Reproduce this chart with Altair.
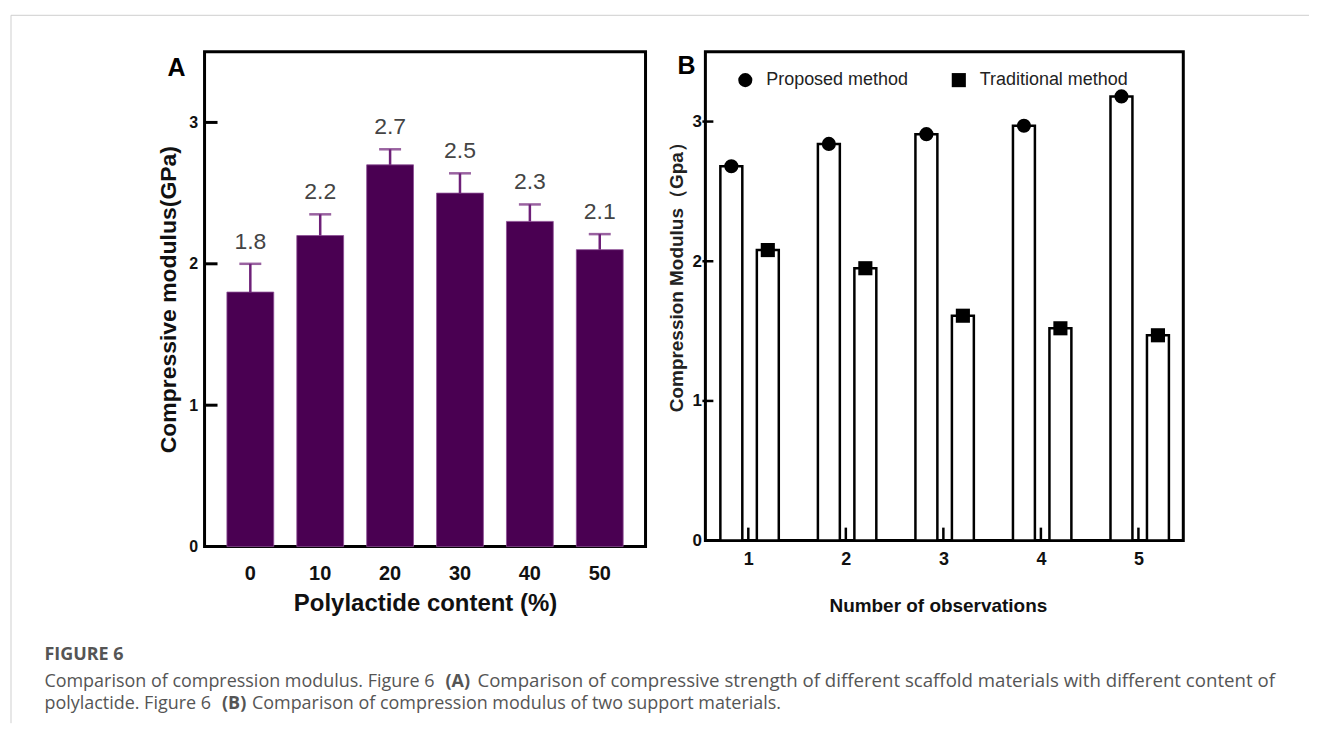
import altair as alt
import pandas as pd

# ---------------- Panel A data ----------------
content = ["0", "10", "20", "30", "40", "50"]
modulus = [1.8, 2.2, 2.7, 2.5, 2.3, 2.1]
err_up = [0.20, 0.15, 0.11, 0.14, 0.12, 0.11]
a_labels = ["1.8", "2.2", "2.7", "2.5", "2.3", "2.1"]
a_yticks = [0, 1, 2, 3]

# ---------------- Panel B data ----------------
observations = [1, 2, 3, 4, 5]
proposed = [2.68, 2.84, 2.91, 2.97, 3.18]
traditional = [2.08, 1.95, 1.61, 1.52, 1.47]
methods = ["Proposed method", "Traditional method"]
b_yticks = [0, 1, 2, 3]

caption_title = "FIGURE 6"
cap1a = "Comparison of compression modulus. Figure 6"
cap1b = "(A)"
cap1c = "Comparison of compressive strength of different scaffold materials with different content of"
cap2a = "polylactide. Figure 6"
cap2b = "(B)"
cap2c = "Comparison of compression modulus of two support materials."

ARIAL = "Liberation Sans"
CAPFONT = "Open Sans"

dfA = pd.DataFrame({"content": content, "modulus": modulus, "err": err_up, "label": a_labels})
dfA_ticks = pd.DataFrame({"t": a_yticks[1:]})
one = pd.DataFrame({"d": [0]})

WA, HA = 442, 496
WB, HB = 479, 490
PURPLE = "#4a0052"
EPURPLE = "#6e2078"

xA_scale = alt.Scale(paddingInner=0.33, paddingOuter=0.32)
xA_axis = alt.Axis(title="Polylactide content (%)", labelAngle=0, ticks=False, tickSize=0,
                   domain=False, grid=False, labelFont=ARIAL, labelFontSize=20,
                   labelFontWeight="bold", labelColor="#111", labelPadding=17,
                   titleFont=ARIAL, titleFontSize=24, titleFontWeight="bold",
                   titleColor="#111", titlePadding=8)
yA_scale = alt.Scale(domain=[0, 3.5], nice=False, zero=True)
yA_axis = alt.Axis(title="Compressive modulus(GPa)", values=a_yticks, ticks=False, tickSize=0,
                   domain=False, grid=False, labelFont=ARIAL, labelFontSize=16,
                   labelFontWeight="bold", labelColor="#111", labelPadding=7,
                   titleFont=ARIAL, titleFontSize=23, titleFontWeight="bold",
                   titleColor="#111", titlePadding=8)

def xa():
    return alt.X("content:N", sort=content, scale=xA_scale, axis=xA_axis)

def ya(field):
    return alt.Y(field, scale=yA_scale, axis=yA_axis)

baseA = alt.Chart(dfA).transform_calculate(upper="datum.modulus + datum.err")

barsA = baseA.mark_bar(color=PURPLE, stroke="#8c4c94", strokeWidth=0.8).encode(
    x=xa(), y=ya("modulus:Q"))
errA = baseA.mark_rule(color=EPURPLE, strokeWidth=2.5).encode(
    x=xa(), y=ya("modulus:Q"), y2="upper:Q")
capA = baseA.mark_tick(color=EPURPLE, thickness=2.5, size=22).encode(
    x=xa(), y=ya("upper:Q"))
lblA = baseA.mark_text(dy=-10, baseline="bottom", fontSize=23, color="#444", font=ARIAL).encode(
    x=xa(), y=ya("upper:Q"), text="label:N")
ticksA = alt.Chart(dfA_ticks).mark_rule(color="black", strokeWidth=3).encode(
    y=ya("t:Q"), x=alt.value(0), x2=alt.value(13))

letterA = alt.Chart(one).mark_text(fontSize=25, fontWeight="bold", font=ARIAL, color="black").encode(
    x=alt.value(-28), y=alt.value(16), text=alt.value("A"))

# page frame (decoration)
frame_top = alt.Chart(one).mark_rule(color="#cfcfcf", strokeWidth=1).encode(
    x=alt.value(-194), x2=alt.value(1107), y=alt.value(-36.5))
frame_left = alt.Chart(one).mark_rule(color="#cfcfcf", strokeWidth=1).encode(
    x=alt.value(-194), y=alt.value(-36.5), y2=alt.value(673))

def cap_text(txt, x, y, bold=False, size=18):
    return alt.Chart(one).mark_text(align="left", baseline="alphabetic", font=CAPFONT,
                                    fontSize=size, fontWeight="bold" if bold else "normal",
                                    color="#555").encode(
        x=alt.value(x), y=alt.value(y), text=alt.value(txt))

captions = [
    cap_text(caption_title, -160.5, 609.5, bold=True, size=18),
    cap_text(cap1a, -160.5, 636.5),
    cap_text(cap1b, 241.5, 636.5, bold=True),
    cap_text(cap1c, 273.5, 636.5, size=18.7),
    cap_text(cap2a, -160.5, 658.5),
    cap_text(cap2b, 17.5, 658.5, bold=True),
    cap_text(cap2c, 47.5, 658.5),
]

panelA = alt.layer(barsA, errA, capA, lblA, ticksA, letterA, frame_top, frame_left,
                   *captions).properties(width=WA, height=HA)

# ---------------- Panel B ----------------
dfB = pd.DataFrame({
    "obs": observations * 2,
    "method": [methods[0]] * len(observations) + [methods[1]] * len(observations),
    "value": proposed + traditional,
})
dfB_xt = pd.DataFrame({"o": observations})
dfB_yt = pd.DataFrame({"t": b_yticks[1:]})

xB_scale = alt.Scale(domain=[0.56, 5.46], nice=False, zero=False)
xB_axis = alt.Axis(title="Number of observations", values=observations, ticks=False, tickSize=0,
                   domain=False, grid=False, labelFont=ARIAL, labelFontSize=18,
                   labelFontWeight="bold", labelColor="#111", labelPadding=10,
                   titleFont=ARIAL, titleFontSize=19, titleFontWeight="bold",
                   titleColor="#111", titlePadding=28, titleX=233)
yB_scale = alt.Scale(domain=[0, 3.5], nice=False, zero=True)
yB_axis = alt.Axis(title="Compression Modulus（Gpa）", values=b_yticks, ticks=False, tickSize=0,
                   domain=False, grid=False, labelFont=ARIAL, labelFontSize=17,
                   labelFontWeight="bold", labelColor="#111", labelPadding=4,
                   titleFont=ARIAL, titleFontSize=19, titleFontWeight="bold",
                   titleColor="#222", titlePadding=5, titleY=221)

def xb(field):
    return alt.X(field, scale=xB_scale, axis=xB_axis)

def yb(field):
    return alt.Y(field, scale=yB_scale, axis=yB_axis)

baseB = alt.Chart(dfB).transform_calculate(
    xc="datum.obs + (datum.method == 'Proposed method' ? -0.174 : 0.2)"
).transform_calculate(
    x0="datum.xc - 0.1125", x1="datum.xc + 0.1125"
)

barsB = baseB.mark_rect(fill="white", stroke="black", strokeWidth=2.5).encode(
    x=xb("x0:Q"), x2="x1:Q", y=yb("value:Q"), y2=alt.datum(0))
ptsB = baseB.mark_point(filled=True, size=200, color="black", opacity=1).encode(
    x=xb("xc:Q"), y=yb("value:Q"),
    shape=alt.Shape("method:N", scale=alt.Scale(domain=methods, range=["circle", "square"]),
                    legend=alt.Legend(orient="none", legendX=533, legendY=19,
                                      direction="horizontal", title=None,
                                      symbolSize=200, symbolFillColor="black",
                                      symbolStrokeColor="black", labelFont=ARIAL,
                                      labelFontSize=18, labelColor="#222",
                                      labelOffset=12, columnPadding=39, labelLimit=400)))
xticksB = alt.Chart(dfB_xt).mark_rule(color="black", strokeWidth=2.5).encode(
    x=xb("o:Q"), y=alt.value(HB), y2=alt.value(HB - 13))
yticksB = alt.Chart(dfB_yt).mark_rule(color="black", strokeWidth=2.5).encode(
    y=yb("t:Q"), x=alt.value(-3), x2=alt.value(8))
letterB = alt.Chart(one).mark_text(fontSize=25, fontWeight="bold", font=ARIAL, color="black").encode(
    x=alt.value(-19), y=alt.value(14), text=alt.value("B"))

panelB = alt.layer(barsB, ptsB, xticksB, yticksB, letterB).properties(width=WB, height=HB)

chart = alt.hconcat(panelA, panelB, spacing=60, bounds="flush").properties(
    padding={"left": 1, "top": 4, "right": 0, "bottom": 0}
).configure(background="white", font=ARIAL).configure_view(stroke="black", strokeWidth=3)

chart.save("out.html", embed_options={"renderer": "svg", "actions": False})
